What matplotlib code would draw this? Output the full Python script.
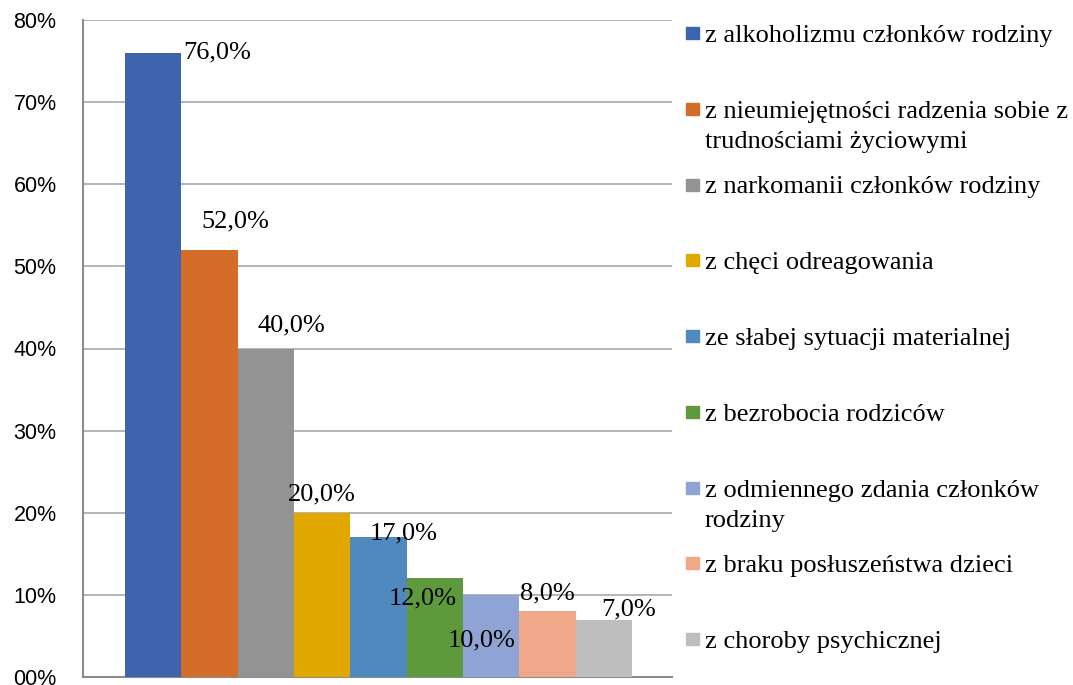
import matplotlib.pyplot as plt
from matplotlib.patches import Rectangle
from matplotlib.ticker import FuncFormatter

# data
labels = ['z alkoholizmu członków rodziny',
          'z nieumiejętności radzenia sobie z\ntrudnościami życiowymi',
          'z narkomanii członków rodziny',
          'z chęci odreagowania',
          'ze słabej sytuacji materialnej',
          'z bezrobocia rodziców',
          'z odmiennego zdania członków\nrodziny',
          'z braku posłuszeństwa dzieci',
          'z choroby psychicznej']
values = [76.0, 52.0, 40.0, 20.0, 17.0, 12.0, 10.0, 8.0, 7.0]
colors = ['#3D64AD', '#D46C2A', '#939393', '#E1A900', '#4F89BE',
          '#5F993D', '#8FA4D4', '#F0A88A', '#BEBEBE']

# manual label offsets (pixels from top-centre of each bar), like in the original
lab_dx = [64, 26, 26, 0, 25, -12, -10, 0, 25]
lab_dy = [0, 28, 23, 18, 4, -20, -46, 18, 10]

W, H = 1073, 685
fig = plt.figure(figsize=(W / 100, H / 100), dpi=100)
ax = fig.add_axes([83 / W, 8 / H, (672 - 83) / W, (677 - 20) / H])

n = len(values)
x = list(range(n))
ax.bar(x, [v / 100 for v in values], width=1.0, color=colors, zorder=3)
ax.set_xlim(-1.245, n - 1 + 1.21)
ax.set_ylim(0, 0.8)
ax.set_yticks([i / 10 for i in range(9)])
ax.yaxis.set_major_formatter(FuncFormatter(lambda v, p: '%02d%%' % round(v * 100)))
ax.set_xticks([])
ax.tick_params(axis='y', length=0, pad=19, labelsize=15.5)
for t in ax.get_yticklabels():
    t.set_fontfamily('Liberation Sans')
ax.grid(axis='y', color='#A0A0A0', linewidth=1.1, zorder=0)
for s in ['top', 'right']:
    ax.spines[s].set_visible(False)
ax.spines['left'].set_color('#8C8C8C')
ax.spines['left'].set_linewidth(1.5)
ax.spines['bottom'].set_color('#8C8C8C')
ax.spines['bottom'].set_linewidth(1.5)

for i, v in enumerate(values):
    ax.annotate(('%.1f%%' % v).replace('.', ','), (i, v / 100),
                xytext=(lab_dx[i], lab_dy[i]), textcoords='offset pixels',
                ha='center', va='center', fontsize=19,
                fontfamily='Liberation Serif', zorder=4)

# legend, Excel style: constant pitch, wrapped lines go below
lx, ly0, pitch, line_h = 705, 42, 75.75, 30
for i, (lab, c) in enumerate(zip(labels, colors)):
    yb = ly0 + i * pitch
    fig.patches.append(Rectangle((686 / W, 1 - (yb - 3) / H), 13 / W, 12 / H,
                                 transform=fig.transFigure, color=c))
    for k, line in enumerate(lab.split('\n')):
        fig.text(lx / W, 1 - (yb + k * line_h) / H, line, ha='left',
                 va='baseline', fontsize=19, fontfamily='Liberation Serif')

fig.savefig('out.png', dpi=100)
